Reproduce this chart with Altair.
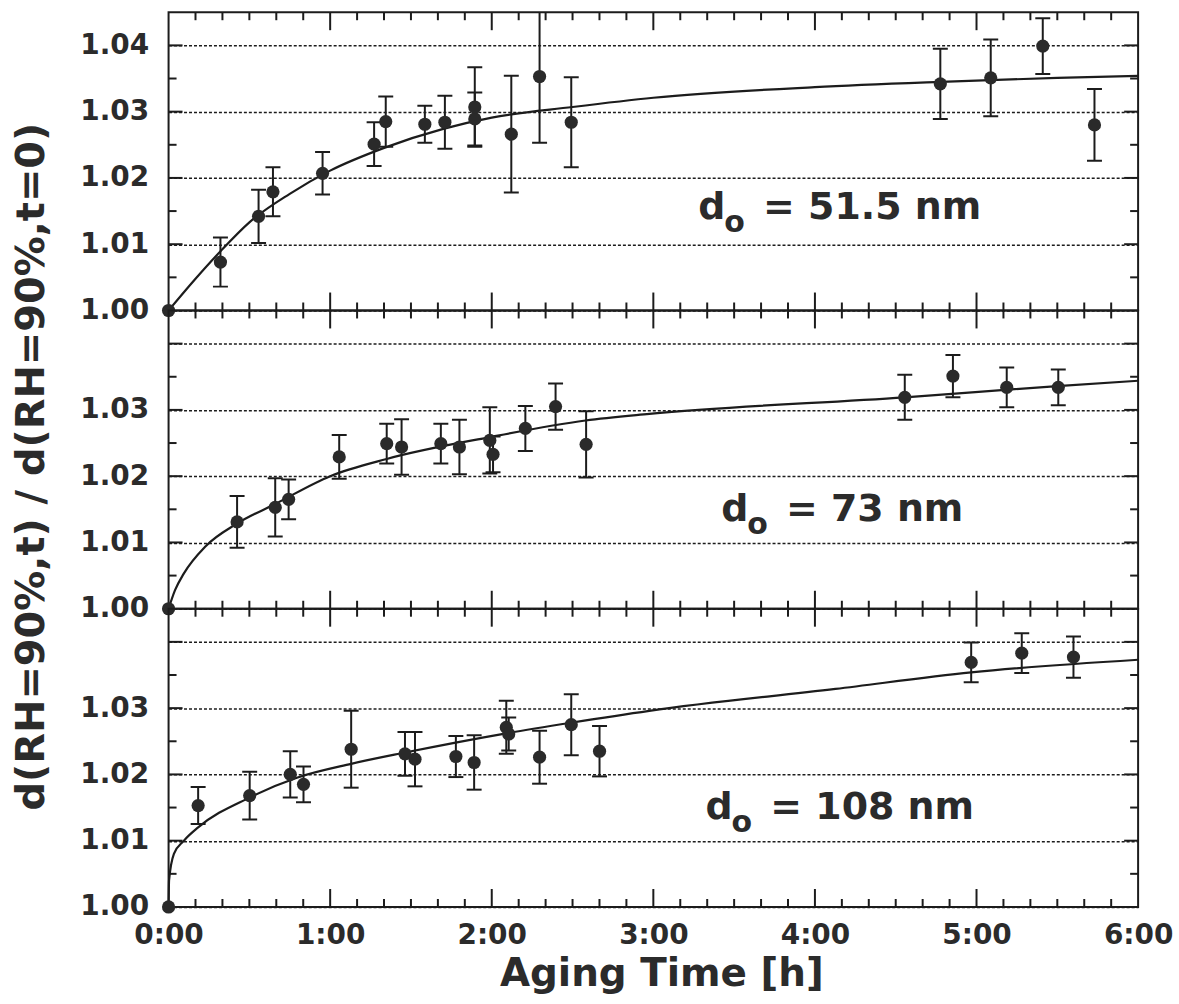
import altair as alt
import pandas as pd

# ---------------- data ----------------
HOURS = [0, 1, 2, 3, 4, 5, 6]
HOUR_LABELS = ["0:00", "1:00", "2:00", "3:00", "4:00", "5:00", "6:00"]
Y_GRID = [1.00, 1.01, 1.02, 1.03, 1.04]
Y_MINOR = [1.005, 1.015, 1.025, 1.035]
X_MAJOR = [1, 2, 3, 4, 5]
X_MINOR = [i / 6 for i in range(1, 36) if i % 6]

# panel 1: d0 = 51.5 nm
p1_t = [0, 0.321, 0.557, 0.646, 0.953, 1.272, 1.344, 1.586, 1.710, 1.895, 1.895,
        2.121, 2.296, 2.492, 4.776, 5.088, 5.410, 5.730]
p1_v = [1.0, 1.0073, 1.0142, 1.0179, 1.0207, 1.0251, 1.0285, 1.0281, 1.0284, 1.0307,
        1.0289, 1.0266, 1.0353, 1.0284, 1.0342, 1.0351, 1.0399, 1.0280]
p1_e = [0, 0.0037, 0.0040, 0.0037, 0.0032, 0.0033, 0.0038, 0.0028, 0.0040, 0.0060,
        0.0040, 0.0088, 0.0100, 0.0068, 0.0053, 0.0058, 0.0042, 0.0054]
c1_t = [0, 0.16, 0.32, 0.5, 0.75, 1.0, 1.33, 1.7, 2.0, 2.5, 3.0, 4.0, 4.78, 5.5, 6.0]
c1_v = [1.0, 1.0046, 1.0089, 1.0133, 1.0176, 1.0211, 1.0245, 1.0274, 1.0291, 1.0307,
        1.0321, 1.0337, 1.0345, 1.0351, 1.0354]

# panel 2: d0 = 73 nm
p2_t = [0, 0.424, 0.660, 0.743, 1.056, 1.350, 1.442, 1.685, 1.800, 1.988, 2.008,
        2.208, 2.395, 2.584, 4.556, 4.854, 5.187, 5.506]
p2_v = [1.0, 1.0131, 1.0153, 1.0165, 1.0229, 1.0249, 1.0244, 1.0249, 1.0244, 1.0254,
        1.0233, 1.0272, 1.0305, 1.0248, 1.0319, 1.0351, 1.0334, 1.0334]
p2_e = [0, 0.0039, 0.0044, 0.0030, 0.0033, 0.0030, 0.0042, 0.0030, 0.0041, 0.0050,
        0.0027, 0.0034, 0.0035, 0.0050, 0.0034, 0.0032, 0.0030, 0.0027]
c2_t = [0, 0.04, 0.094, 0.228, 0.42, 0.66, 1.0, 1.35, 1.99, 2.58, 2.975, 4.556, 5.5, 6.0]
c2_v = [1.0, 1.0028, 1.0053, 1.0094, 1.0128, 1.0158, 1.0200, 1.0226, 1.0259, 1.0284,
        1.0294, 1.0319, 1.0336, 1.0344]

# panel 3: d0 = 108 nm
p3_t = [0, 0.183, 0.502, 0.753, 0.835, 1.130, 1.463, 1.525, 1.778, 1.891, 2.090,
        2.105, 2.296, 2.492, 2.667, 4.967, 5.280, 5.600]
p3_v = [1.0, 1.0153, 1.0168, 1.0200, 1.0185, 1.0238, 1.0231, 1.0223, 1.0227, 1.0218,
        1.0271, 1.0261, 1.0226, 1.0275, 1.0235, 1.0369, 1.0383, 1.0377]
p3_e = [0, 0.0028, 0.0036, 0.0035, 0.0027, 0.0058, 0.0033, 0.0041, 0.0031, 0.0041,
        0.0040, 0.0025, 0.0040, 0.0046, 0.0038, 0.0030, 0.0030, 0.0031]
c3_t = [0, 0.003, 0.033, 0.095, 0.183, 0.5, 0.794, 1.13, 1.463, 2.09, 2.49, 2.975,
        4.127, 4.967, 6.0]
c3_v = [1.0, 1.004, 1.008, 1.010, 1.012, 1.0165, 1.0195, 1.0216, 1.0233, 1.0262,
        1.0278, 1.0296, 1.0329, 1.0354, 1.0373]

ANN_TEXT = ["= 51.5 nm", "= 73 nm", "= 108 nm"]
ANN_T = [3.278, 3.42, 3.323]
ANN_V = [1.0138, 1.0133, 1.01325]

X_TITLE = "Aging Time [h]"
Y_TITLE = "d(RH=90%,t) / d(RH=90%,t=0)"

# ---------------- styling ----------------
W, H = 972, 299
INK = "#1c1c1c"
TXT = "#2b2b2b"
FONT = "DejaVu Sans"
LBL = 28

xscale = alt.Scale(domain=[0, 6], nice=False, zero=False)
yscale = alt.Scale(domain=[1.0, 1.045], nice=False, zero=False)

x_label_expr = "[" + ",".join("'%s'" % s for s in HOUR_LABELS) + "][round(datum.value)]"


def panel(pt, pv, pe, ct, cv, ann_text, ann_t, ann_v, bottom, ytitle, label_top):
    if bottom:
        xaxis = alt.Axis(values=HOURS, labelExpr=x_label_expr, grid=False, ticks=False,
                         tickSize=0, domain=False, labelFont=FONT, labelFontSize=LBL,
                         labelFontWeight="bold", labelColor=TXT, labelPadding=15,
                         labelFlush=False, labelOverlap=False, title=X_TITLE,
                         titleFont=FONT, titleFontSize=39, titleFontWeight="bold",
                         titleColor=TXT, titleBaseline="alphabetic", titleX=494, titleY=79)
        X = lambda f: alt.X(f, type="quantitative", scale=xscale, axis=xaxis)
    else:
        X = lambda f: alt.X(f, type="quantitative", scale=xscale, axis=None)

    if label_top:
        yexpr = "format(datum.value, '.2f')"
    else:
        yexpr = "datum.value > 1.035 ? '' : format(datum.value, '.2f')"
    yargs = dict(values=Y_GRID, labelExpr=yexpr, grid=True, gridDash=[3, 2], gridColor=INK,
                 gridWidth=1.5, ticks=False, tickSize=0, domain=False, labelFont=FONT,
                 labelFontSize=LBL, labelFontWeight="bold", labelColor=TXT, labelPadding=20,
                 labelFlush=False, labelOverlap=False)
    if ytitle:
        yargs.update(title=ytitle, titleFont=FONT, titleFontSize=40, titleFontWeight="bold",
                     titleColor=TXT, titleBaseline="alphabetic", titleX=-125, titleY=156,
                     titleAngle=270)
    else:
        yargs.update(title="")
    yaxis = alt.Axis(**yargs)
    Y = lambda f: alt.Y(f, type="quantitative", scale=yscale, axis=yaxis)

    pts = pd.DataFrame({"t": pt, "v": pv, "e": pe})
    cur = pd.DataFrame({"t": ct, "v": cv})
    ymaj = pd.DataFrame({"yt": Y_GRID[1:]})
    ymin = pd.DataFrame({"yt": Y_MINOR})
    xmaj = pd.DataFrame({"xt": X_MAJOR})
    xmin = pd.DataFrame({"xt": X_MINOR})
    ann = pd.DataFrame({"t": [ann_t], "v": [ann_v], "d": ["d"], "o": ["o"], "r": [ann_text]})

    layers = []
    # inner ticks (drawn as tick marks)
    for df, L in ((ymaj, 14), (ymin, 8)):
        layers.append(alt.Chart(df).mark_tick(orient="horizontal", size=L, thickness=2,
                                              color=INK, opacity=1)
                      .encode(y=Y("yt"), x=alt.value(L / 2)))
        layers.append(alt.Chart(df).mark_tick(orient="horizontal", size=L, thickness=2,
                                              color=INK, opacity=1)
                      .encode(y=Y("yt"), x=alt.value(W - L / 2)))
    for df, L in ((xmaj, 18), (xmin, 8)):
        layers.append(alt.Chart(df).mark_tick(orient="vertical", size=L, thickness=2,
                                              color=INK, opacity=1)
                      .encode(x=X("xt"), y=alt.value(L / 2)))
        layers.append(alt.Chart(df).mark_tick(orient="vertical", size=L, thickness=2,
                                              color=INK, opacity=1)
                      .encode(x=X("xt"), y=alt.value(H - L / 2)))

    # fit curve
    layers.append(alt.Chart(cur).mark_line(color=INK, strokeWidth=2.2, interpolate="monotone")
                  .encode(x=X("t"), y=Y("v")))

    # error bars
    eb = alt.Chart(pts).transform_filter("datum.e > 0").transform_calculate(
        lo="datum.v - datum.e", hi="datum.v + datum.e")
    layers.append(eb.mark_rule(color=INK, strokeWidth=2, clip=True).encode(
        x=X("t"), y=Y("lo:Q"), y2="hi:Q"))
    layers.append(eb.mark_tick(orient="horizontal", size=15, thickness=2, color=INK,
                               opacity=1, clip=True)
                  .encode(x=X("t"), y=Y("lo:Q")))
    layers.append(eb.mark_tick(orient="horizontal", size=15, thickness=2, color=INK,
                               opacity=1, clip=True)
                  .encode(x=X("t"), y=Y("hi:Q")))

    # points
    layers.append(alt.Chart(pts).mark_point(shape="circle", filled=True, size=175,
                                            color="#2a2a2a", opacity=1)
                  .encode(x=X("t"), y=Y("v")))

    # annotation d_o = ...
    tbase = alt.Chart(ann)
    layers.append(tbase.mark_text(align="left", baseline="alphabetic", font=FONT,
                                  fontWeight="bold", fontSize=38, color=TXT)
                  .encode(x=X("t"), y=Y("v"), text="d:N"))
    layers.append(tbase.mark_text(align="left", baseline="alphabetic", font=FONT,
                                  fontWeight="bold", fontSize=30, color=TXT, dx=26, dy=13)
                  .encode(x=X("t"), y=Y("v"), text="o:N"))
    layers.append(tbase.mark_text(align="left", baseline="alphabetic", font=FONT,
                                  fontWeight="bold", fontSize=38, color=TXT, dx=65)
                  .encode(x=X("t"), y=Y("v"), text="r:N"))

    return alt.layer(*layers).properties(width=W, height=H)


top = panel(p1_t, p1_v, p1_e, c1_t, c1_v, ANN_TEXT[0], ANN_T[0], ANN_V[0], False, None, True)
mid = panel(p2_t, p2_v, p2_e, c2_t, c2_v, ANN_TEXT[1], ANN_T[1], ANN_V[1], False, Y_TITLE, False)
bot = panel(p3_t, p3_v, p3_e, c3_t, c3_v, ANN_TEXT[2], ANN_T[2], ANN_V[2], True, None, False)

chart = alt.vconcat(top, mid, bot, spacing=0, bounds="flush").properties(
    padding={"left": 10, "top": 10, "right": 5, "bottom": 5},
    background="white",
).configure_view(stroke=INK, strokeWidth=2)

chart.save("out.html", embed_options={"renderer": "svg", "actions": False})
